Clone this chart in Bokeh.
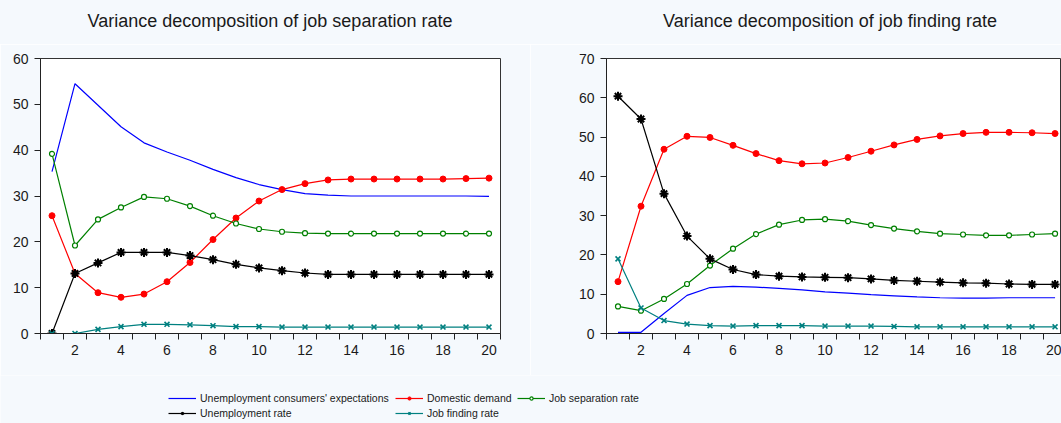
from bokeh.plotting import figure
from bokeh.models import FixedTicker, Legend, LegendItem, Range1d, Div
from bokeh.layouts import column, row
from bokeh.embed import file_html
from bokeh.resources import INLINE

periods = list(range(1, 21))

titles = ["Variance decomposition of job separation rate",
          "Variance decomposition of job finding rate"]

# Left panel: variance decomposition of job separation rate
sep_expectations = [35.3, 54.5, 49.8, 45.1, 41.6, 39.6, 37.8, 35.8, 34.0, 32.5,
                    31.4, 30.5, 30.2, 30.0, 30.0, 30.0, 30.0, 30.0, 30.0, 29.9]
sep_domestic = [25.7, 13.1, 8.9, 7.9, 8.6, 11.3, 15.5, 20.5, 25.2, 28.9,
                31.4, 32.7, 33.5, 33.7, 33.7, 33.7, 33.7, 33.7, 33.8, 33.9]
sep_jobsep = [39.2, 19.2, 24.9, 27.5, 29.8, 29.4, 27.8, 25.7, 24.0, 22.8,
              22.2, 21.9, 21.8, 21.8, 21.8, 21.8, 21.8, 21.8, 21.8, 21.8]
sep_unemp = [0.0, 13.1, 15.4, 17.7, 17.7, 17.7, 17.0, 16.1, 15.1, 14.3,
             13.7, 13.2, 12.9, 12.9, 12.9, 12.9, 12.9, 12.9, 12.9, 12.9]
sep_jobfind = [0.0, 0.0, 0.9, 1.5, 2.0, 2.0, 1.9, 1.7, 1.5, 1.5,
               1.4, 1.4, 1.4, 1.4, 1.4, 1.4, 1.4, 1.4, 1.4, 1.4]

# Right panel: variance decomposition of job finding rate
fnd_expectations = [0.3, 0.3, 5.1, 9.7, 11.7, 12.0, 11.8, 11.5, 11.1, 10.6,
                    10.3, 9.9, 9.6, 9.3, 9.1, 9.0, 9.0, 9.1, 9.1, 9.1]
fnd_domestic = [13.2, 32.4, 46.9, 50.2, 49.9, 47.9, 45.8, 44.0, 43.2, 43.4,
                44.8, 46.4, 48.0, 49.4, 50.3, 50.9, 51.2, 51.2, 51.1, 50.9]
fnd_jobsep = [6.9, 5.8, 8.8, 12.6, 17.3, 21.6, 25.3, 27.7, 28.9, 29.1,
              28.6, 27.6, 26.7, 26.0, 25.4, 25.2, 25.0, 25.0, 25.2, 25.4]
fnd_unemp = [60.4, 54.6, 35.6, 24.8, 19.0, 16.3, 15.0, 14.6, 14.4, 14.3,
             14.2, 13.9, 13.5, 13.3, 13.1, 12.9, 12.8, 12.6, 12.5, 12.5]
fnd_jobfind = [19.0, 6.5, 3.3, 2.4, 2.0, 1.9, 2.0, 2.0, 2.0, 1.9,
               1.9, 1.9, 1.8, 1.7, 1.7, 1.7, 1.7, 1.7, 1.7, 1.7]

series_names = ["Unemployment consumers' expectations", "Domestic demand",
                "Job separation rate", "Unemployment rate", "Job finding rate"]

BG = "#F5F9FD"
FONT = "Liberation Sans"
TXT = "#1a1a1a"

STYLES = [
    dict(color="#0000FF", marker=None),
    dict(color="#FF0000", marker="circle", size=6, fill="#FF0000", lw=1),
    dict(color="#008000", marker="circle", size=5, fill="white", lw=1.2),
    dict(color="#000000", marker="asterisk", size=9, fill="#000000", lw=2),
    dict(color="#008080", marker="x", size=7, fill="#008080", lw=1.6),
]


def draw_series(p, x, y, st):
    rs = [p.line(x, y, line_color=st["color"], line_width=1.2)]
    if st["marker"]:
        rs.append(p.scatter(x, y, marker=st["marker"], size=st["size"],
                            line_color=st["color"], fill_color=st["fill"],
                            line_width=st["lw"]))
    return rs


def make_panel(y_end, y_step, x_end, width, left, right, data):
    p = figure(width=width, height=331, x_range=Range1d(0.5, x_end),
               y_range=Range1d(0, y_end), output_backend="svg",
               toolbar_location=None, min_border_left=left,
               min_border_right=right, min_border_top=14,
               min_border_bottom=42)
    p.border_fill_color = BG
    p.background_fill_color = "white"
    p.outline_line_color = "#333333"
    p.outline_line_width = 1
    p.grid.visible = False

    xa = p.xaxis[0]
    xa.ticker = FixedTicker(ticks=[i for i in range(2, 21, 2)],
                            minor_ticks=[i + 0.5 for i in range(0, 21)])
    xa.major_tick_line_color = None
    xa.major_tick_out = 0
    xa.major_tick_in = 0
    xa.minor_tick_out = 6
    xa.minor_tick_in = 0
    xa.minor_tick_line_color = "#222222"
    xa.major_label_standoff = 5
    xa.axis_line_color = "#222222"

    ya = p.yaxis[0]
    ya.ticker = FixedTicker(ticks=list(range(0, y_end + 1, y_step)), minor_ticks=[])
    ya.major_tick_out = 6
    ya.major_tick_in = 0
    ya.major_tick_line_color = "#222222"
    ya.major_label_standoff = 6
    ya.axis_line_color = "#222222"

    for ax in (xa, ya):
        ax.major_label_text_font = FONT
        ax.major_label_text_font_size = "14px"
        ax.major_label_text_color = TXT

    for ys, st in zip(data, STYLES):
        draw_series(p, periods, ys, st)
    return p


p1 = make_panel(60, 10, 20.5, 530, 40, 30,
                [sep_expectations, sep_domestic, sep_jobsep, sep_unemp, sep_jobfind])
p2 = make_panel(70, 10, 20.28, 531, 76, 0,
                [fnd_expectations, fnd_domestic, fnd_jobsep, fnd_unemp, fnd_jobfind])

# header with the two panel titles
header_html = (
    '<div style="display:flex;align-items:center;height:44px;'
    "font-family:'Liberation Sans';font-size:18px;color:#1a1a1a;white-space:nowrap\">"
    f'<div style="width:460px;margin-left:40px;text-align:center">{titles[0]}</div>'
    f'<div style="width:448px;margin-left:106px;text-align:center">{titles[1]}</div>'
    '</div>'
)
header = Div(text=header_html, width=1061, height=44,
             styles={"background-color": BG, "margin": "0", "padding": "0"})

# legend strip
pl = figure(width=1061, height=48, x_range=Range1d(0, 1), y_range=Range1d(0, 1),
            output_backend="svg", toolbar_location=None, min_border=0,
            x_axis_location=None, y_axis_location=None)
pl.border_fill_color = BG
pl.background_fill_color = BG
pl.outline_line_color = None
pl.grid.visible = False

nan = [float("nan")]
dummy = [draw_series(pl, nan, nan, st) for st in STYLES]


def make_legend(idx, loc):
    leg = Legend(items=[LegendItem(label=series_names[i], renderers=dummy[i]) for i in idx],
                 location=loc, orientation="vertical")
    leg.label_text_font = FONT
    leg.label_text_font_size = "10.5px"
    leg.label_text_color = TXT
    leg.glyph_width = 28
    leg.glyph_height = 8
    leg.label_height = 14
    leg.label_standoff = 4
    leg.spacing = 1
    leg.padding = 0
    leg.margin = 0
    leg.border_line_color = None
    leg.background_fill_alpha = 0
    return leg


pl.add_layout(make_legend([0, 3], (168, 3)))
pl.add_layout(make_legend([1, 4], (395, 3)))
pl.add_layout(make_legend([2], (517, 18)))

layout = column(header, row(p1, p2), pl)

with open("out.html", "w") as f:
    f.write(file_html(layout, INLINE))
